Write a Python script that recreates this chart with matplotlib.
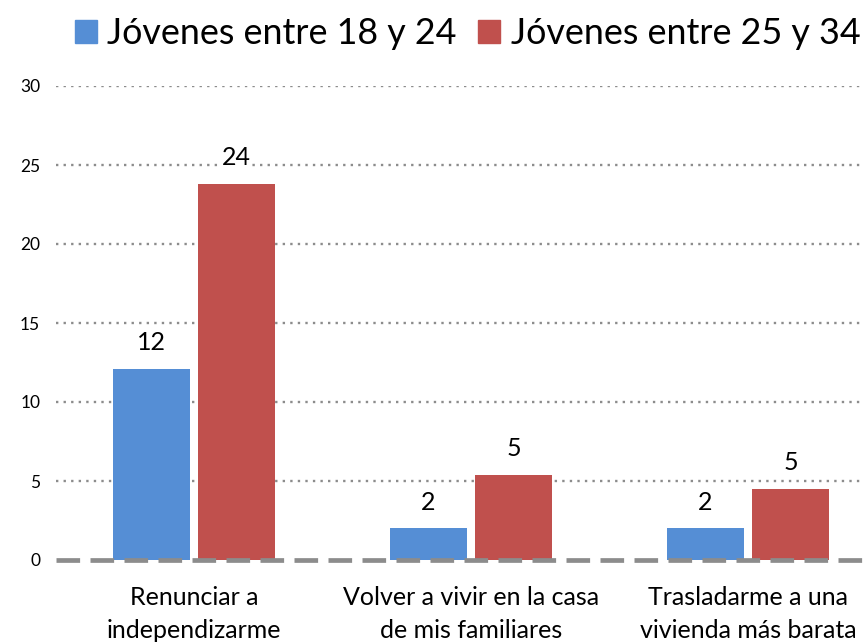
import numpy as np
import matplotlib.pyplot as plt
from matplotlib.patches import Patch

plt.rcParams["font.family"] = ["Lato", "DejaVu Sans"]

categories = ["Renunciar a\nindependizarme",
              "Volver a vivir en la casa\nde mis familiares",
              "Trasladarme a una\nvivienda más barata"]
series_names = ["Jóvenes entre 18 y 24", "Jóvenes entre 25 y 34"]
young_18_24 = [12.1, 2.0, 2.0]
young_25_34 = [23.8, 5.4, 4.5]
yticks = [0, 5, 10, 15, 20, 25, 30]

BLUE = "#558ED5"
RED = "#C0504D"
GRID = "#8C8C8C"

fig = plt.figure(figsize=(8.63, 6.44), dpi=100)
# plot area runs past the right edge of the figure, as in the original crop
ax = fig.add_axes([55.5 / 863, 84 / 644, 831 / 863, 474 / 644])

x = np.arange(len(categories))
w = 0.278
off = 0.153

for v in yticks[1:]:
    ax.axhline(v, color=GRID, linestyle=(0, (1, 2.2)), linewidth=1.7,
               dash_capstyle="butt", zorder=0)
ax.axhline(0, color=GRID, linestyle=(0, (5.0, 2.2)), linewidth=3.4,
           clip_on=False, zorder=3)

b1 = ax.bar(x - off, young_18_24, w, color=BLUE, zorder=2)
b2 = ax.bar(x + off, young_25_34, w, color=RED, zorder=2)

for bars, vals in ((b1, young_18_24), (b2, young_25_34)):
    for rect, v in zip(bars, vals):
        ax.annotate(str(int(v + 0.5)),
                    (rect.get_x() + rect.get_width() / 2, v),
                    xytext=(0, 19), textcoords="offset points",
                    ha="center", va="center", fontsize=18,
                    bbox=dict(facecolor="white", edgecolor="none", pad=1),
                    zorder=4)

ax.set_xlim(-0.5, 2.5)
ax.set_ylim(0, 30)
ax.set_yticks(yticks)
ax.set_xticks(x)
ax.set_xticklabels(categories, fontsize=18, linespacing=1.5)
ax.tick_params(axis="y", length=0, pad=11, labelsize=12.5)
ax.tick_params(axis="x", length=0, pad=19)
for s in ax.spines.values():
    s.set_visible(False)

handles = [Patch(color=BLUE), Patch(color=RED)]
fig.legend(handles, series_names, loc="upper right",
           bbox_to_anchor=(1.022, 1.007), ncol=2, frameon=False,
           fontsize=25.8, handlelength=0.6, handleheight=0.6,
           handletextpad=0.3, columnspacing=0.6, borderaxespad=0.2)

fig.savefig("out.png", dpi=100)
